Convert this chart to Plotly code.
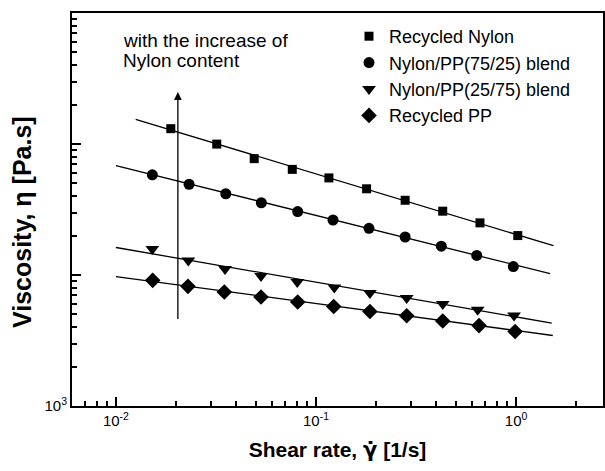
import numpy as np
import plotly.graph_objects as go

# ---- data ----
series_names = ["Recycled Nylon", "Nylon/PP(75/25) blend", "Nylon/PP(25/75) blend", "Recycled PP"]

x_nylon = [0.0188, 0.0319, 0.0491, 0.0761, 0.116, 0.179, 0.279, 0.43, 0.66, 1.02]
y_nylon = [130900, 99800, 77300, 64000, 55100, 45500, 37200, 30700, 25000, 20000]

x_b7525 = [0.0152, 0.0232, 0.0354, 0.0533, 0.081, 0.1216, 0.184, 0.279, 0.423, 0.636, 0.969]
y_b7525 = [58200, 49300, 41700, 35600, 30500, 26300, 22700, 19500, 16600, 14100, 11600]

x_b2575 = [0.0152, 0.0230, 0.0351, 0.0531, 0.0806, 0.1235, 0.186, 0.284, 0.430, 0.643, 0.977]
y_b2575 = [15800, 12900, 11100, 9820, 8830, 8030, 7280, 6660, 6000, 5430, 4910]

x_pp = [0.01526, 0.0229, 0.0348, 0.0531, 0.081, 0.1226, 0.186, 0.284, 0.430, 0.653, 0.989]
y_pp = [9100, 8190, 7420, 6790, 6220, 5750, 5260, 4880, 4450, 4110, 3700]

# power-law fit lines (eta = K * rate^p)
fit_K = [20400, 11880, 4786, 3767]
fit_p = [-0.462, -0.380, -0.265, -0.206]
fit_lo = [0.01255, 0.0100, 0.0100, 0.0100]
fit_hi = [1.537, 1.479, 1.508, 1.526]

x_tick_vals = [0.01, 0.1, 1]
x_tick_text = ["10<sup>-2</sup>", "10<sup>-1</sup>", "10<sup>0</sup>"]
y_tick_vals = [1e3, 1e4, 1e5, 1e6]
y_tick_text = ["10<sup>3</sup>", "", "", ""]

annot_lines = ["with the increase of", "Nylon content"]
arrow_x = 0.0204
arrow_y_from = 4500
arrow_y_to = 249000

# ---- styling ----
symbols = ["square", "circle", "triangle-down", "diamond"]
sizes = [9, 11, 12, 12]
FONT = "Arial, Liberation Sans, Helvetica, sans-serif"

xs = [x_nylon, x_b7525, x_b2575, x_pp]
ys = [y_nylon, y_b7525, y_b2575, y_pp]

fig = go.Figure()
for i in range(4):
    xf = np.geomspace(fit_lo[i], fit_hi[i], 2)
    yf = fit_K[i] * xf ** fit_p[i]
    fig.add_trace(go.Scatter(x=xf, y=yf, mode="lines", line=dict(color="black", width=1.3),
                             showlegend=False, hoverinfo="skip"))
for i in range(4):
    fig.add_trace(go.Scatter(x=xs[i], y=ys[i], mode="markers", name=series_names[i],
                             marker=dict(symbol=symbols[i], size=sizes[i], color="black",
                                         line=dict(width=0))))

minor_x = [k * 10.0 ** e for e in range(-3, 1) for k in range(2, 10)]
minor_y = [k * 10.0 ** e for e in range(3, 6) for k in range(2, 10)]

gamma_dot = '<span style="font-family:DejaVu Sans">\u03b3\u0307</span>'

fig.update_xaxes(type="log", range=[np.log10(0.00603), np.log10(2.72)],
                 tickmode="array", tickvals=x_tick_vals, ticktext=x_tick_text,
                 ticks="inside", ticklen=9, tickwidth=1.5, tickcolor="black",
                 showline=True, linecolor="black", linewidth=2, mirror=True,
                 showgrid=False, zeroline=False, automargin=False,
                 tickfont=dict(family=FONT, size=15, color="black"),
                 minor=dict(tickmode="array", tickvals=minor_x, ticks="inside", ticklen=5,
                            tickwidth=1.5, tickcolor="black", showgrid=False),
                 title=dict(text="<b>Shear rate, " + gamma_dot + " [1/s]</b>",
                            font=dict(family=FONT, size=21, color="black"), standoff=14))
fig.update_yaxes(type="log", range=[3, 6],
                 tickmode="array", tickvals=y_tick_vals, ticktext=y_tick_text,
                 ticks="inside", ticklen=9, tickwidth=1.5, tickcolor="black",
                 showline=True, linecolor="black", linewidth=2, mirror=True,
                 showgrid=False, zeroline=False, automargin=False,
                 tickfont=dict(family=FONT, size=15, color="black"),
                 minor=dict(tickmode="array", tickvals=minor_y, ticks="inside", ticklen=5,
                            tickwidth=1.5, tickcolor="black", showgrid=False))

fig.add_annotation(x=np.log10(arrow_x), y=np.log10(arrow_y_to), ax=np.log10(arrow_x),
                   ay=np.log10(arrow_y_from), xref="x", yref="y", axref="x", ayref="y",
                   text="", showarrow=True, arrowhead=2, arrowsize=1.2, arrowwidth=1.3,
                   arrowcolor="black", standoff=0, startstandoff=0)

pw, ph = 605 - 72 - 2, 471 - 13 - 65
def px_to_paper(px, py):
    return (px - 72) / pw, (406 - py) / ph

for j, line in enumerate(annot_lines):
    ax_, ay_ = px_to_paper(121, 41 + 19 * j)
    fig.add_annotation(x=ax_, y=ay_, xref="paper", yref="paper", text=line,
                       showarrow=False, xanchor="left", yanchor="middle",
                       font=dict(family=FONT, size=19, color="black"))

# y-axis title placed as rotated text
tx, ty = px_to_paper(22, 222)
fig.add_annotation(x=tx, y=ty, xref="paper", yref="paper",
                   text="<b>Viscosity, \u03b7 [Pa.s]</b>", textangle=-90, showarrow=False,
                   xanchor="center", yanchor="middle",
                   font=dict(family=FONT, size=25, color="black"))

lx, ly = px_to_paper(349, 18)
fig.update_layout(
    width=605, height=471,
    margin=dict(l=72, r=2, t=13, b=65, autoexpand=False),
    paper_bgcolor="white", plot_bgcolor="white",
    showlegend=True,
    legend=dict(x=lx, y=ly, xanchor="left", yanchor="top", bgcolor="rgba(0,0,0,0)",
                font=dict(family=FONT, size=18, color="black"), tracegroupgap=0,
                itemsizing="trace"),
)

fig.write_html("out.html", config={"displayModeBar": False},
               post_script="document.body.style.margin='0';document.body.style.padding='0';")
